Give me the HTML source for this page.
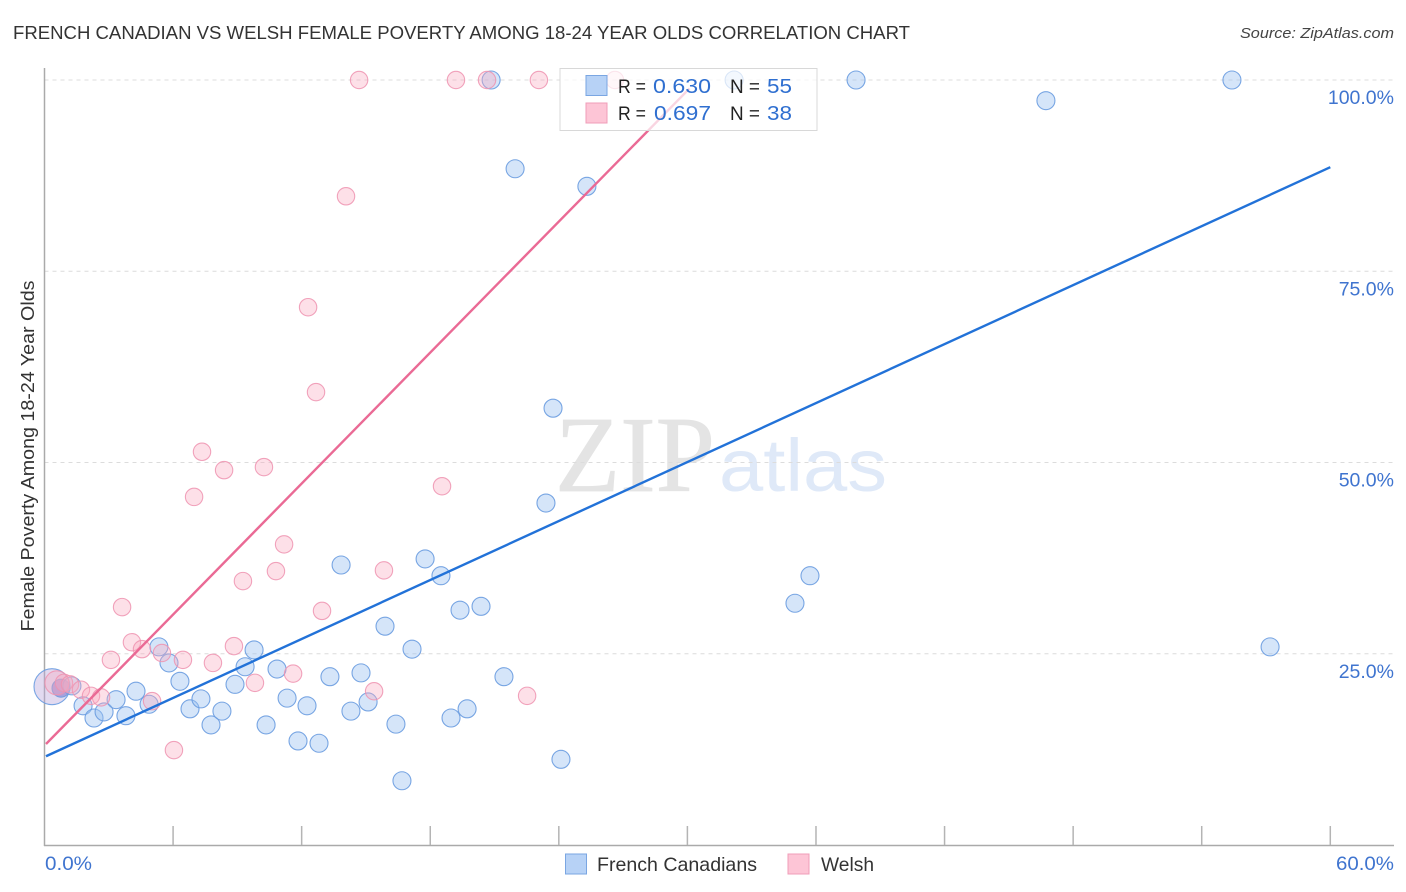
<!DOCTYPE html>
<html lang="en">
<head>
<meta charset="utf-8">
<title>French Canadian vs Welsh Female Poverty Correlation Chart</title>
<style>
html,body{margin:0;padding:0;background:#fff;width:1406px;height:892px;overflow:hidden}
svg{display:block;font-family:"Liberation Sans",sans-serif}
</style>
</head>
<body>
<svg id="chart" xmlns="http://www.w3.org/2000/svg" width="1406" height="892" viewBox="0 0 1406 892">
  <rect width="1406" height="892" fill="#fff"/>
  <text x="13" y="39" font-size="18.5" fill="#333" textLength="897" lengthAdjust="spacingAndGlyphs">FRENCH CANADIAN VS WELSH FEMALE POVERTY AMONG 18-24 YEAR OLDS CORRELATION CHART</text>
  <text x="1394" y="38" font-size="15" font-style="italic" fill="#444" text-anchor="end" textLength="154" lengthAdjust="spacingAndGlyphs">Source: ZipAtlas.com</text>
  <g>
    <text x="555" y="491" font-family="'Liberation Serif',serif" font-size="108" fill="#e4e4e4" stroke="#e4e4e4" stroke-width="0.8" textLength="160" lengthAdjust="spacingAndGlyphs">ZIP</text>
    <text x="719" y="491" font-size="74" fill="#dfe9f8" textLength="168" lengthAdjust="spacingAndGlyphs">atlas</text>
  </g>
  <g id="grid"></g>
  <g id="axes"></g>
  <g id="points"></g>
  <g id="trends"></g>
  <g id="ylabels"></g>
  <text transform="translate(34 456) rotate(-90)" font-size="18.5" fill="#333" text-anchor="middle" textLength="351" lengthAdjust="spacingAndGlyphs">Female Poverty Among 18-24 Year Olds</text>
  <text x="45" y="870" font-size="19.5" fill="#3f74cf" textLength="47" lengthAdjust="spacingAndGlyphs">0.0%</text>
  <text x="1394" y="870" font-size="19.5" fill="#3f74cf" text-anchor="end" textLength="58" lengthAdjust="spacingAndGlyphs">60.0%</text>

  <g>
    <rect x="560" y="68.5" width="257" height="62" fill="#fff" fill-opacity="0.72" stroke="#d8d8d8" stroke-width="1"/>
    <rect x="586" y="75.5" width="21" height="20" fill="#b7d2f6" stroke="#7aa6e2"/>
    <rect x="586" y="103" width="21" height="20" fill="#fdc5d6" stroke="#f09db8"/>
    <text x="618" y="93" font-size="19" fill="#222" textLength="28" lengthAdjust="spacingAndGlyphs">R =</text>
    <text x="653" y="93" font-size="20.5" fill="#2f6fd0" textLength="58" lengthAdjust="spacingAndGlyphs">0.630</text>
    <text x="730" y="93" font-size="19" fill="#222" textLength="30" lengthAdjust="spacingAndGlyphs">N =</text>
    <text x="767" y="93" font-size="20.5" fill="#2f6fd0" textLength="25" lengthAdjust="spacingAndGlyphs">55</text>
    <text x="618" y="120" font-size="19" fill="#222" textLength="28" lengthAdjust="spacingAndGlyphs">R =</text>
    <text x="654" y="120" font-size="20.5" fill="#2f6fd0" textLength="57" lengthAdjust="spacingAndGlyphs">0.697</text>
    <text x="730" y="120" font-size="19" fill="#222" textLength="30" lengthAdjust="spacingAndGlyphs">N =</text>
    <text x="767" y="120" font-size="20.5" fill="#2f6fd0" textLength="25" lengthAdjust="spacingAndGlyphs">38</text>
  </g>

  <g>
    <rect x="565.5" y="854" width="21" height="20" fill="#b7d2f6" stroke="#7aa6e2"/>
    <text x="597" y="871" font-size="19.5" fill="#333" textLength="160" lengthAdjust="spacingAndGlyphs">French Canadians</text>
    <rect x="788" y="854" width="21" height="20" fill="#fdc5d6" stroke="#f09db8"/>
    <text x="821" y="871" font-size="19.5" fill="#333" textLength="53" lengthAdjust="spacingAndGlyphs">Welsh</text>
  </g>
</svg>
<script>
const yTickValues = [100, 75, 50, 25];
const yTickLabels = ["100.0%", "75.0%", "50.0%", "25.0%"];
const xTickValues = [6, 12, 18, 24, 30, 36, 42, 48, 54, 60];

const frenchCanadianX = [0.35,0.77,1.28,1.80,2.31,2.78,3.34,3.80,4.27,4.88,5.34,5.81,6.32,6.79,7.30,7.77,8.28,8.89,9.36,9.78,10.34,10.85,11.32,11.83,12.25,12.81,13.32,13.84,14.30,14.77,15.10,15.89,16.40,16.68,17.15,17.76,18.50,18.97,19.39,19.72,20.37,20.84,21.44,21.96,23.40,23.73,24.10,25.31,32.18,35.02,35.72,37.87,46.73,55.41,57.19];
const frenchCanadianY = [20.7,20.5,20.8,18.2,16.6,17.4,19.0,16.9,20.1,18.4,25.9,23.8,21.4,17.8,19.1,15.7,17.5,21.0,23.3,25.5,15.7,23.0,19.2,13.6,18.2,13.3,22.0,36.6,17.5,22.5,18.7,28.6,15.8,8.4,25.6,37.4,35.2,16.6,30.7,17.8,31.2,100,22.0,88.4,44.7,57.1,11.2,86.1,100,31.6,35.2,100,97.3,100,25.9];

const welshX = [0.58,0.91,1.19,1.70,2.17,2.64,3.10,3.62,4.08,4.55,5.02,5.48,6.04,6.46,6.98,7.35,7.86,8.38,8.84,9.26,9.82,10.24,10.80,11.18,11.60,12.30,12.67,12.95,14.07,14.68,15.38,15.84,18.55,19.20,20.65,22.52,23.07,26.62];
const welshY = [21.2,21.2,21.0,20.3,19.5,19.3,24.2,31.1,26.5,25.6,18.8,25.1,12.4,24.2,45.5,51.4,23.8,49.0,26.0,34.5,21.2,49.4,35.8,39.3,22.4,70.3,59.2,30.6,84.8,100,20.1,35.9,46.9,100,100,19.5,100,100];

const blueTrendX = [0.07, 60.0];
const blueTrendY = [11.6, 88.6];
const pinkTrendX = [0.07, 30.1];
const pinkTrendY = [13.2, 98.9];

const NS = "http://www.w3.org/2000/svg";
function xScale(v) { return 44.5 + v * 21.43; }
function yScale(v) { return 845 - v * 7.65; }
function mk(parent, tag, attrs) {
  const el = document.createElementNS(NS, tag);
  for (const k in attrs) el.setAttribute(k, attrs[k]);
  parent.appendChild(el);
  return el;
}

const grid = document.getElementById("grid");
const axes = document.getElementById("axes");
const ylabels = document.getElementById("ylabels");
const points = document.getElementById("points");
const trends = document.getElementById("trends");

yTickValues.forEach(function (v, i) {
  const line = mk(grid, "line", {x1: 44.5, x2: 1394, y1: yScale(v), y2: yScale(v), stroke: "#dcdcdc", "stroke-width": 1, "stroke-dasharray": "4 4"});
  
  
  const t = mk(ylabels, "text", {x: 1394, y: yScale(v) + 24, "font-size": 19.5, fill: "#3f74cf", "text-anchor": "end"});
  
  
  t.textContent = yTickLabels[i];
});

const yAxis = mk(axes, "line", {x1: 44.5, x2: 44.5, y1: 68, y2: 846, stroke: "#aaa", "stroke-width": 1.5});


const xAxis = mk(axes, "line", {x1: 44, x2: 1394, y1: 845.5, y2: 845.5, stroke: "#aaa", "stroke-width": 1.5});


xTickValues.forEach(function (v) {
  const tick = mk(axes, "line", {x1: xScale(v), x2: xScale(v), y1: 826, y2: 845, stroke: "#b4b4b4", "stroke-width": 1.5});
  
  
});

frenchCanadianX.forEach(function (v, i) {
  const c = mk(points, "circle", {cx: xScale(v), cy: yScale(frenchCanadianY[i]), r: i === 0 ? 18 : 9, fill: i === 0 ? "#b9a6dc" : (i === 1 ? "#7f6fc8" : "#9cc0f0"), "fill-opacity": i === 1 ? 0.55 : 0.42, stroke: "#6a9ce0", "stroke-opacity": 0.9, "stroke-width": 1.1});
  
  
});
welshX.forEach(function (v, i) {
  const c = mk(points, "circle", {cx: xScale(v), cy: yScale(welshY[i]), r: i === 0 ? 12 : 8.7, fill: "#f9a8c0", "fill-opacity": 0.36, stroke: "#ee93b0", "stroke-opacity": 0.85, "stroke-width": 1.1});
  
  
});

const pinkLine = mk(trends, "line", {x1: xScale(pinkTrendX[0]), y1: yScale(pinkTrendY[0]), x2: xScale(pinkTrendX[1]), y2: yScale(pinkTrendY[1]), stroke: "#ea6a95", "stroke-width": 2.4});


const blueLine = mk(trends, "line", {x1: xScale(blueTrendX[0]), y1: yScale(blueTrendY[0]), x2: xScale(blueTrendX[1]), y2: yScale(blueTrendY[1]), stroke: "#2272d8", "stroke-width": 2.4});


</script>
</body>
</html>
